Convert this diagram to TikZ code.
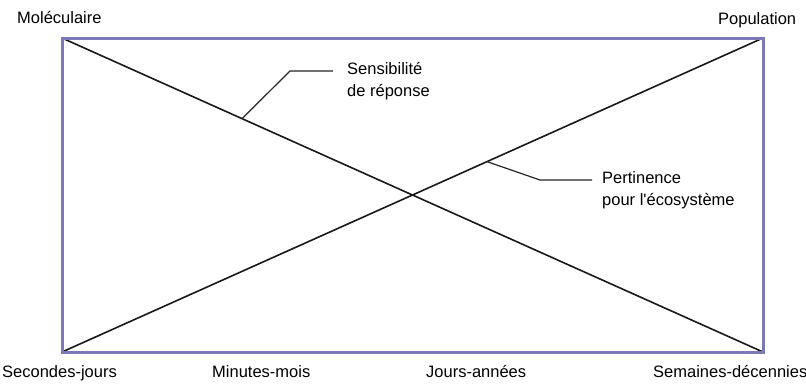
\documentclass[tikz,border=0pt]{standalone}
\usepackage{fontspec}
\defaultfontfeatures[\rmfamily]{}
\setmainfont{Liberation Sans}
\usetikzlibrary{calc}
\definecolor{frame}{HTML}{7C7AB6}
\begin{document}
\begin{tikzpicture}[x=1pt,y=-1pt,
  lbl/.style={inner sep=0pt,font=\fontsize{16.5}{22.5}\selectfont,text=black},
  diag/.style={draw=black!90,line width=1.6pt},
  leader/.style={draw=black!85,line width=1.2pt},
  framebox/.style={draw=frame,line width=3pt}]
\useasboundingbox[fill=white] (0,0) rectangle (806,384);
\coordinate (A) at (62,38);
\coordinate (B) at (763,38);
\coordinate (C) at (763,352);
\coordinate (D) at (62,352);
\draw[diag] (A) -- (C);
\draw[diag] (D) -- (B);
\draw[framebox] (A) -- (B) -- (C) -- (D) -- cycle;
% labels
\node[lbl,anchor=base west] (mol) at (17,23) {Moléculaire};
\node[lbl,anchor=base west] (pop) at (718,24) {Population};
\node[lbl,anchor=base west] (sec) at (2,377) {Secondes-jours};
\node[lbl,anchor=base west] (min) at (212,377) {Minutes-mois};
\node[lbl,anchor=base west] (jou) at (426,377) {Jours-années};
\node[lbl,anchor=base west] (sem) at (653,377) {Semaines-décennies};
\node[lbl,anchor=west,align=left] (sens) at (347,81) {Sensibilité\\de réponse};
\node[lbl,anchor=west,align=left] (pert) at (602,190) {Pertinence\\pour l'écosystème};
% leaders
\coordinate (s1) at (333,71);
\coordinate (s2) at (290,71);
\coordinate (s3) at ($(A)!0.2568!(C)$);
\draw[leader] (s1) -- (s2) -- (s3);
\coordinate (p1) at (592,180);
\coordinate (p2) at (540,180);
\coordinate (p3) at ($(D)!0.6063!(B)$);
\draw[leader] (p1) -- (p2) -- (p3);
\end{tikzpicture}
\end{document}
